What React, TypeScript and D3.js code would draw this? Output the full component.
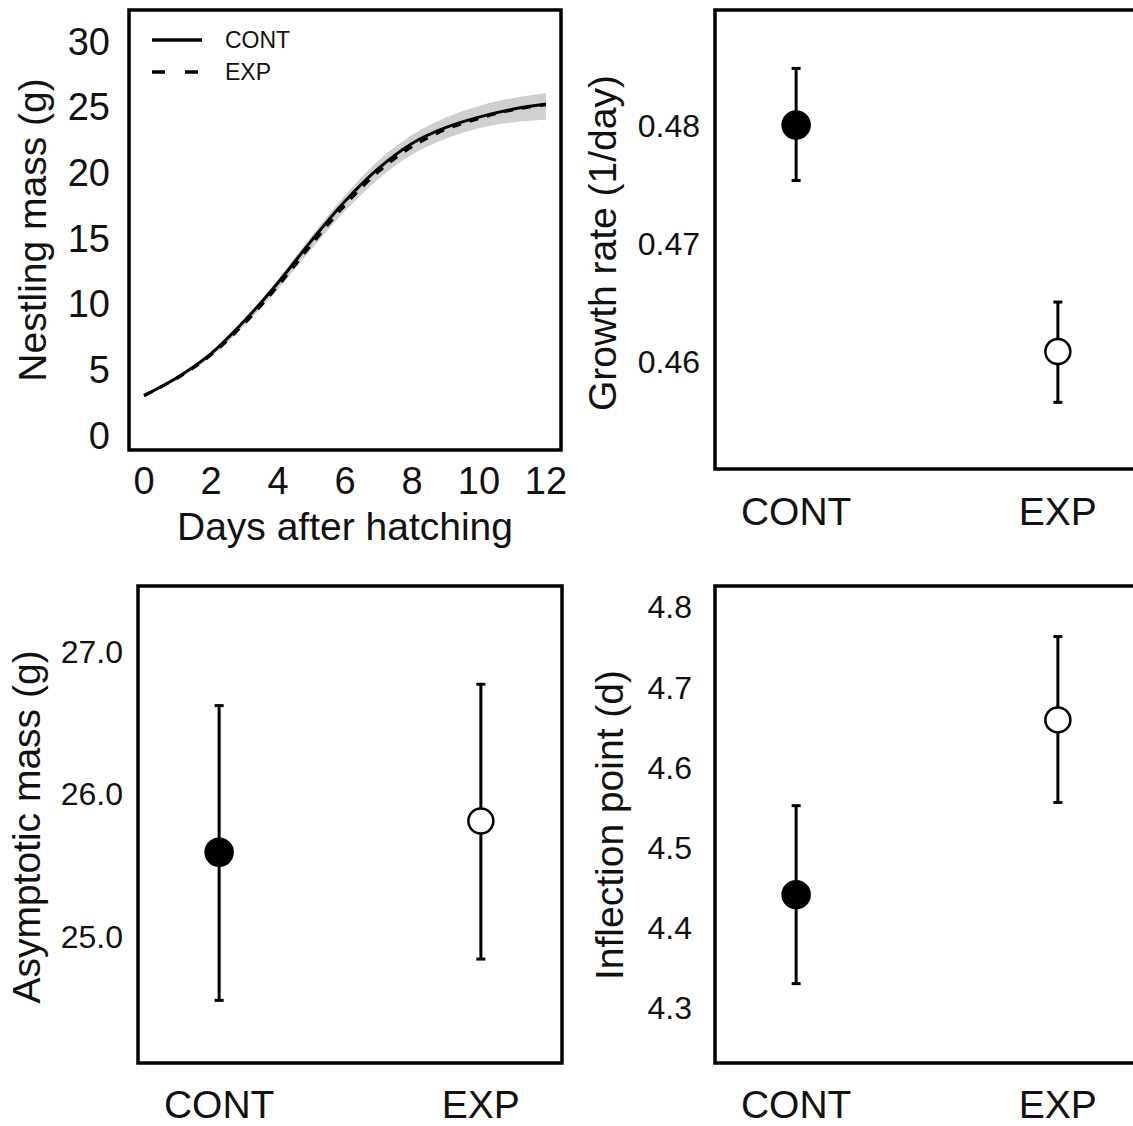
import React from 'react';
import * as d3 from 'd3';

// ---------- data ----------
const days = [0, 1, 2, 3, 4, 5, 6, 7, 8, 9, 10, 11, 12];
const contMass = [3.0, 4.4, 6.2, 8.7, 11.6, 14.8, 17.8, 20.3, 22.2, 23.4, 24.2, 24.8, 25.2];
const expMass = [3.0, 4.35, 6.1, 8.5, 11.35, 14.5, 17.5, 20.05, 21.95, 23.25, 24.1, 24.75, 25.15];
const bandUpper = [3.05, 4.45, 6.3, 8.85, 11.85, 15.15, 18.25, 20.9, 22.85, 24.15, 25.05, 25.65, 26.05];
const bandLower = [2.95, 4.2, 5.95, 8.35, 11.1, 14.15, 17.05, 19.5, 21.35, 22.55, 23.35, 23.8, 24.0];
const massTicks = [0, 5, 10, 15, 20, 25, 30];
const dayTicks = [0, 2, 4, 6, 8, 10, 12];

const groups = ['CONT', 'EXP'];
const growthMean = [0.48, 0.4608];
const growthLo = [0.4753, 0.4565];
const growthHi = [0.4848, 0.465];
const growthTicks = [0.46, 0.47, 0.48];

const asymMean = [25.59, 25.81];
const asymLo = [24.55, 24.84];
const asymHi = [26.62, 26.77];
const asymTicks = [25.0, 26.0, 27.0];

const inflMean = [4.441, 4.659];
const inflLo = [4.33, 4.556];
const inflHi = [4.552, 4.763];
const inflTicks = [4.3, 4.4, 4.5, 4.6, 4.7, 4.8];

const FONT = 'Liberation Sans, Arial, Helvetica, sans-serif';
const TXT = '#111';

type DotPanelProps = {
  left: number; top: number; width: number; height: number;
  domain: [number, number];
  ticks: number[]; fmt: (v: number) => string;
  mean: number[]; lo: number[]; hi: number[];
  title: string; titleX: number; titleY: number;
  tickRight: number; catY: number;
};

function DotPanel(p: DotPanelProps) {
  const x = d3.scaleLinear().domain([0.69, 2.31]).range([p.left, p.left + p.width]);
  const y = d3.scaleLinear().domain(p.domain).range([p.top + p.height, p.top]);
  return (
    <g>
      <rect x={p.left} y={p.top} width={p.width} height={p.height} fill="none" stroke="#000" strokeWidth={3.5} />
      {p.ticks.map((t) => (
        <text key={t} x={p.tickRight} y={y(t)} dy="0.36em" textAnchor="end" fontSize={32} fill={TXT} fontFamily={FONT}>
          {p.fmt(t)}
        </text>
      ))}
      {groups.map((g, i) => (
        <g key={g}>
          <line x1={x(i + 1)} x2={x(i + 1)} y1={y(p.lo[i])} y2={y(p.hi[i])} stroke="#000" strokeWidth={3} />
          <line x1={x(i + 1) - 4.5} x2={x(i + 1) + 4.5} y1={y(p.lo[i])} y2={y(p.lo[i])} stroke="#000" strokeWidth={3} />
          <line x1={x(i + 1) - 4.5} x2={x(i + 1) + 4.5} y1={y(p.hi[i])} y2={y(p.hi[i])} stroke="#000" strokeWidth={3} />
          <circle cx={x(i + 1)} cy={y(p.mean[i])} r={i === 0 ? 13.5 : 12.5} fill={i === 0 ? '#000' : '#fff'} stroke="#000" strokeWidth={2.5} />
          <text x={x(i + 1)} y={p.catY} textAnchor="middle" fontSize={39} fill={TXT} fontFamily={FONT}>{g}</text>
        </g>
      ))}
      <text transform={`translate(${p.titleX},${p.titleY}) rotate(-90)`} textAnchor="middle" fontSize={39} fill={TXT} fontFamily={FONT}>
        {p.title}
      </text>
    </g>
  );
}

function GrowthCurvePanel() {
  const left = 129, top = 10, width = 432, height = 440;
  const x = d3.scaleLinear().domain([-0.45, 12.45]).range([left, left + width]);
  const y = d3.scaleLinear().domain([-1.14, 32.36]).range([top + height, top]);
  const line = d3.line<number>().x((_, i) => x(days[i])).y((d) => y(d)).curve(d3.curveCatmullRom);
  const area = d3.area<number>()
    .x((_, i) => x(days[i]))
    .y0((_, i) => y(bandLower[i]))
    .y1((_, i) => y(bandUpper[i]))
    .curve(d3.curveCatmullRom);
  return (
    <g>
      <path d={area(days) || ''} fill="#cfcfcf" stroke="none" />
      <path d={line(expMass) || ''} fill="none" stroke="#000" strokeWidth={3} strokeDasharray="9,9" />
      <path d={line(contMass) || ''} fill="none" stroke="#000" strokeWidth={3} />
      <rect x={left} y={top} width={width} height={height} fill="none" stroke="#000" strokeWidth={3.5} />
      {massTicks.map((t) => (
        <text key={t} x={110} y={y(t)} dy="0.36em" textAnchor="end" fontSize={38} fill={TXT} fontFamily={FONT}>{t}</text>
      ))}
      {dayTicks.map((t) => (
        <text key={t} x={x(t)} y={480} dy="0.36em" textAnchor="middle" fontSize={38} fill={TXT} fontFamily={FONT}>{t}</text>
      ))}
      <text x={x(6)} y={540} textAnchor="middle" fontSize={39} fill={TXT} fontFamily={FONT}>Days after hatching</text>
      <text transform="translate(46,230) rotate(-90)" textAnchor="middle" fontSize={39} fill={TXT} fontFamily={FONT}>Nestling mass (g)</text>
      {/* legend */}
      <line x1={152} x2={202} y1={40} y2={40} stroke="#000" strokeWidth={3.5} />
      <line x1={152} x2={202} y1={72} y2={72} stroke="#000" strokeWidth={3.5} strokeDasharray="13,20" />
      <text x={225} y={40} dy="0.36em" fontSize={23} fill={TXT} fontFamily={FONT}>CONT</text>
      <text x={225} y={72} dy="0.36em" fontSize={23} fill={TXT} fontFamily={FONT}>EXP</text>
    </g>
  );
}

export default function App() {
  return (
    <svg width={1133} height={1126} style={{ position: 'absolute', left: 0, top: 0, background: '#fff' }}>
      <rect x={0} y={0} width={1133} height={1126} fill="#fff" />
      <GrowthCurvePanel />
      <DotPanel left={715} top={10} width={424} height={459} domain={[0.45085, 0.48975]}
        ticks={growthTicks} fmt={(v) => v.toFixed(2)} mean={growthMean} lo={growthLo} hi={growthHi}
        title="Growth rate (1/day)" titleX={616} titleY={243} tickRight={700} catY={525} />
      <DotPanel left={138} top={586} width={424} height={477} domain={[24.11, 27.46]}
        ticks={asymTicks} fmt={(v) => v.toFixed(1)} mean={asymMean} lo={asymLo} hi={asymHi}
        title="Asymptotic mass (g)" titleX={40} titleY={827} tickRight={123} catY={1118} />
      <DotPanel left={715} top={586} width={424} height={477} domain={[4.231, 4.826]}
        ticks={inflTicks} fmt={(v) => v.toFixed(1)} mean={inflMean} lo={inflLo} hi={inflHi}
        title="Inflection point (d)" titleX={623} titleY={825} tickRight={692} catY={1118} />
    </svg>
  );
}
